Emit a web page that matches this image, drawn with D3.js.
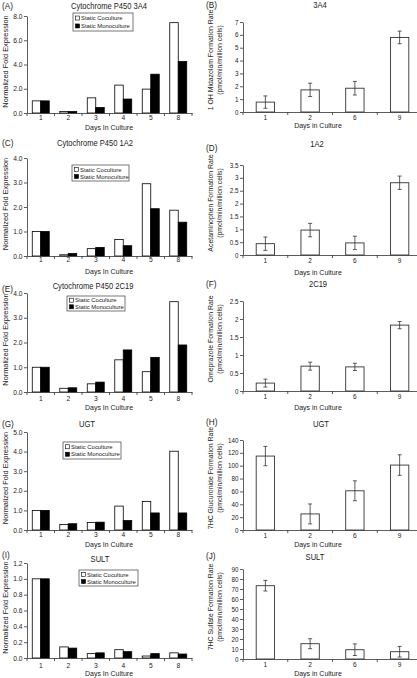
<!DOCTYPE html>
<html><head><meta charset="utf-8">
<script src="https://cdnjs.cloudflare.com/ajax/libs/d3/7.8.5/d3.min.js"></script>
<style>
body{margin:0;background:#fff}
svg{display:block}
text{font-family:"Liberation Sans",Arial,sans-serif;fill:#222}
</style>
</head><body>
<svg id="c" width="417" height="678"></svg>
<script>
// ---------- DATA ----------
const daysLeft = ["1","2","3","4","5","8"];
const daysRight = ["1","2","6","9"];
const seriesNames = ["Static Coculture","Static Monoculture"];

const cocA  = [1.0, 0.12, 1.25, 2.3, 1.97, 7.45];
const monoA = [1.0, 0.12, 0.45, 1.15, 3.2, 4.25];
const cocC  = [1.0, 0.05, 0.3, 0.67, 2.95, 1.87];
const monoC = [1.0, 0.1, 0.35, 0.42, 1.93, 1.38];
const cocE  = [1.0, 0.15, 0.33, 1.3, 0.82, 3.65];
const monoE = [1.0, 0.17, 0.4, 1.7, 1.4, 1.9];
const cocG  = [1.0, 0.28, 0.38, 1.22, 1.45, 4.02];
const monoG = [1.0, 0.32, 0.4, 0.48, 0.87, 0.87];
const cocI  = [1.0, 0.14, 0.055, 0.105, 0.025, 0.065];
const monoI = [1.0, 0.125, 0.065, 0.08, 0.055, 0.05];

const rateB = [0.77, 1.72, 1.85, 5.8];   const errB = [0.48, 0.52, 0.53, 0.49];
const rateD = [0.44, 0.97, 0.47, 2.81];  const errD = [0.26, 0.26, 0.26, 0.26];
const rateF = [0.22, 0.69, 0.67, 1.83];  const errF = [0.11, 0.11, 0.10, 0.10];
const rateH = [115, 25, 61, 101];        const errH = [15, 15.5, 15.5, 16];
const rateJ = [73.3, 15.3, 9.3, 7.3];    const errJ = [5.3, 5, 5.8, 5.3];

const ticksA = [0,2,4,6,8];
const ticksC = [0,1,2,3,4];
const ticksE = [0,1,2,3,4];
const ticksG = [0,1,2,3,4,5];
const ticksI = [0,0.2,0.4,0.6,0.8,1.0,1.2];
const ticksB = [0,1,2,3,4,5,6,7];
const ticksD = [0,0.5,1,1.5,2,2.5,3,3.5];
const ticksF = [0,0.5,1,1.5,2,2.5];
const ticksH = [0,20,40,60,80,100,120,140];
const ticksJ = [0,10,20,30,40,50,60,70,80,90];

const leftTitles = ["Cytochrome P450 3A4","Cytochrome P450 1A2","Cytochrome P450 2C19","UGT","SULT"];
const rightTitles = ["3A4","1A2","2C19","UGT","SULT"];
const rightYLabels = ["1 OH Midazolam Formation Rate","Acetaminophen Formation Rate","Omeprazole Formation Rate","7HC Glucuronide Formation Rate","7HC Sulfate Formation Rate"];
const unitsLabel = "(pmol/min/million cells)";
const leftYLabel = "Normalized Fold Expression";
const leftXLabel = "Days In Culture";
const rightXLabel = "Days in Culture";

// ---------- DRAWING ----------
const svg = d3.select("#c");
const INK = "#222";

function txt(g, x, y, s, o = {}) {
  let tr = `translate(${x},${y})`;
  if (o.rot) tr += ` rotate(${o.rot})`;
  if (o.sx) tr += ` scale(${o.sx},1)`;
  return g.append("text").attr("transform", tr)
    .attr("text-anchor", o.anchor || "middle")
    .attr("dy", "0.35em")
    .attr("font-size", o.size || 7)
    .text(s);
}

function yAxis(g, y, x0, ticks, fmt, fs) {
  const ax = g.append("g").attr("transform", `translate(${x0},0)`)
    .call(d3.axisLeft(y).tickValues(ticks).tickFormat(fmt).tickSize(3).tickSizeOuter(0).tickPadding(1.5));
  ax.select(".domain").attr("stroke", "#333").attr("stroke-width", 0.8);
  ax.selectAll(".tick line").attr("stroke", "#333").attr("stroke-width", 0.8);
  ax.selectAll(".tick text").attr("font-size", fs).attr("fill", INK)
    .attr("font-family", '"Liberation Sans",Arial,sans-serif');
}

function xAxis(g, x, yZero, labelY, fs) {
  const ax = g.append("g").attr("transform", `translate(0,${yZero})`)
    .call(d3.axisBottom(x).tickSize(0).tickSizeOuter(0).tickPadding(0));
  ax.select(".domain").attr("stroke", "#333").attr("stroke-width", 0.8);
  ax.selectAll(".tick text").attr("font-size", fs).attr("fill", INK)
    .attr("font-family", '"Liberation Sans",Arial,sans-serif')
    .attr("dy", "0.35em").attr("y", labelY - yZero);
  const bounds = x.domain().map(d => x(d)).concat([x.range()[1]]);
  g.append("g").selectAll("line").data(bounds).join("line")
    .attr("x1", d => d).attr("x2", d => d)
    .attr("y1", yZero).attr("y2", yZero + 3)
    .attr("stroke", "#333").attr("stroke-width", 0.8);
}

function leftPanel(c) {
  const g = svg.append("g");
  const x = d3.scaleBand().domain(daysLeft).range([27, 192]);
  const xi = d3.scaleBand().domain([0, 1]).range([0, x.bandwidth()]).paddingOuter(0.62);
  const y = d3.scaleLinear().domain([0, d3.max(c.ticks)]).range([c.y0, c.yTop]);
  const rows = daysLeft.map((d, i) => ({ d, v: [c.coc[i], c.mono[i]] }));
  g.append("g").selectAll("g").data(rows).join("g")
    .attr("transform", r => `translate(${x(r.d)},0)`)
    .selectAll("rect").data(r => r.v.map((v, k) => ({ v, k }))).join("rect")
    .attr("x", o => xi(o.k)).attr("width", xi.bandwidth())
    .attr("y", o => y(o.v)).attr("height", o => c.y0 - y(o.v))
    .attr("fill", o => o.k ? "#000" : "#fff")
    .attr("stroke", "#000").attr("stroke-width", 0.8);
  yAxis(g, y, 27, c.ticks, d3.format(".1f"), 6.7);
  xAxis(g, x, c.y0, c.tickY, 6.7);
  txt(g, c.titleX, c.titleY, c.title, { size: 8.6, sx: 0.88 });
  txt(g, 2, c.letterY, c.letter, { size: 8.2, anchor: "start" });
  txt(g, 5.5, (c.y0 + c.yTop) / 2 - 3, leftYLabel, { size: 7.4, rot: -90 });
  txt(g, 109, c.xlabY, leftXLabel, { size: 7.5, sx: 0.93 });
  const L = c.legend;
  g.append("rect").attr("x", L.x).attr("y", L.y).attr("width", L.w).attr("height", L.h)
    .attr("fill", "#fff").attr("stroke", "#555").attr("stroke-width", 0.8);
  seriesNames.forEach((s, k) => {
    const cy = L.y + L.h * (k ? 0.72 : 0.28);
    g.append("rect").attr("x", L.x + 2.5).attr("y", cy - 2).attr("width", 4).attr("height", 4)
      .attr("fill", k ? "#000" : "#fff").attr("stroke", "#000").attr("stroke-width", 0.6);
    txt(g, L.x + 8, cy, s, { size: 5.9, anchor: "start" });
  });
}

function rightPanel(c) {
  const g = svg.append("g");
  const x = d3.scaleBand().domain(daysRight).range([243, 422]);
  const y = d3.scaleLinear().domain([0, d3.max(c.ticks)]).range([c.y0, c.yTop]);
  const bw = x.bandwidth() * 0.41;
  const rows = daysRight.map((d, i) => ({ d, v: c.rate[i], e: c.err[i] }));
  g.append("g").selectAll("rect").data(rows).join("rect")
    .attr("x", r => x(r.d) + (x.bandwidth() - bw) / 2).attr("width", bw)
    .attr("y", r => y(r.v)).attr("height", r => c.y0 - y(r.v))
    .attr("fill", "#fff").attr("stroke", "#333").attr("stroke-width", 0.9);
  const eb = g.append("g").attr("stroke", "#333").attr("stroke-width", 0.8);
  rows.forEach(r => {
    const cx = x(r.d) + x.bandwidth() / 2;
    eb.append("line").attr("x1", cx).attr("x2", cx).attr("y1", y(r.v + r.e)).attr("y2", y(r.v - r.e));
    eb.append("line").attr("x1", cx - 2).attr("x2", cx + 2).attr("y1", y(r.v + r.e)).attr("y2", y(r.v + r.e));
    eb.append("line").attr("x1", cx - 2).attr("x2", cx + 2).attr("y1", y(r.v - r.e)).attr("y2", y(r.v - r.e));
  });
  yAxis(g, y, 243, c.ticks, d => String(d), 6.3);
  xAxis(g, x, c.y0, c.tickY, 6.5);
  txt(g, c.titleX, c.titleY, c.title, { size: 8.6, sx: 0.88 });
  txt(g, 206, c.letterY, c.letter, { size: 8.2, anchor: "start" });
  const mid = (c.y0 + c.yTop) / 2 - 7;
  txt(g, 210.5, mid, c.ylab, { size: 6.9, rot: -90 });
  txt(g, 219.5, mid, unitsLabel, { size: 6.9, rot: -90 });
  txt(g, 318, c.xlabY, rightXLabel, { size: 7.5, sx: 0.93 });
}

leftPanel({ letter: "(A)", title: leftTitles[0], titleX: 109, titleY: 6, letterY: 6,
  coc: cocA, mono: monoA, ticks: ticksA, y0: 113, yTop: 16, tickY: 118, xlabY: 127,
  legend: { x: 73, y: 13, w: 60, h: 18 } });
leftPanel({ letter: "(C)", title: leftTitles[1], titleX: 95, titleY: 143, letterY: 143,
  coc: cocC, mono: monoC, ticks: ticksC, y0: 256, yTop: 158, tickY: 260, xlabY: 271,
  legend: { x: 72, y: 165, w: 57, h: 16 } });
leftPanel({ letter: "(E)", title: leftTitles[2], titleX: 93, titleY: 286, letterY: 289,
  coc: cocE, mono: monoE, ticks: ticksE, y0: 392, yTop: 293, tickY: 399, xlabY: 407,
  legend: { x: 67, y: 296, w: 58, h: 15 } });
leftPanel({ letter: "(G)", title: leftTitles[3], titleX: 87, titleY: 424, letterY: 424,
  coc: cocG, mono: monoG, ticks: ticksG, y0: 530, yTop: 432, tickY: 535, xlabY: 544,
  legend: { x: 63, y: 442, w: 58, h: 17 } });
leftPanel({ letter: "(I)", title: leftTitles[4], titleX: 100, titleY: 559, letterY: 555,
  coc: cocI, mono: monoI, ticks: ticksI, y0: 658, yTop: 563, tickY: 666, xlabY: 673,
  legend: { x: 79, y: 570, w: 59, h: 16 } });

rightPanel({ letter: "(B)", title: rightTitles[0], titleX: 320, titleY: 5, letterY: 5,
  rate: rateB, err: errB, ticks: ticksB, y0: 112, yTop: 22, tickY: 118, xlabY: 125, ylab: rightYLabels[0] });
rightPanel({ letter: "(D)", title: rightTitles[1], titleX: 317, titleY: 144, letterY: 148,
  rate: rateD, err: errD, ticks: ticksD, y0: 255, yTop: 165, tickY: 261, xlabY: 272, ylab: rightYLabels[1] });
rightPanel({ letter: "(F)", title: rightTitles[2], titleX: 318, titleY: 284, letterY: 284,
  rate: rateF, err: errF, ticks: ticksF, y0: 391, yTop: 301, tickY: 397, xlabY: 407, ylab: rightYLabels[2] });
rightPanel({ letter: "(H)", title: rightTitles[3], titleX: 321, titleY: 424, letterY: 422,
  rate: rateH, err: errH, ticks: ticksH, y0: 530, yTop: 440, tickY: 536, xlabY: 544, ylab: rightYLabels[3] });
rightPanel({ letter: "(J)", title: rightTitles[4], titleX: 315, titleY: 557, letterY: 556,
  rate: rateJ, err: errJ, ticks: ticksJ, y0: 659, yTop: 569, tickY: 665, xlabY: 673, ylab: rightYLabels[4] });
</script>
</body></html>
